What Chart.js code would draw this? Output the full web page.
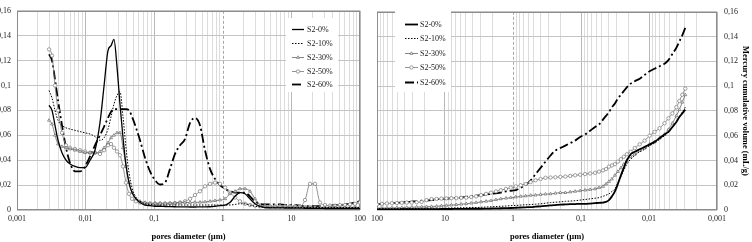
<!DOCTYPE html>
<html><head><meta charset="utf-8">
<script src="https://cdn.jsdelivr.net/npm/chart.js@4/dist/chart.umd.min.js"></script>
<style>
html,body{margin:0;padding:0;background:#fff;width:752px;height:242px;overflow:hidden}
#c1{position:absolute;left:0;top:0}
#c2{position:absolute;left:370px;top:0}
</style></head><body>
<canvas id="c1" width="370" height="242"></canvas>
<canvas id="c2" width="382" height="242"></canvas>
<script>
// ---------- DATA ----------
const diameters = [0.00293,0.00324,0.00358,0.00396,0.00453,0.00518,0.00592,0.0070,0.00829,0.0098,
 0.0116,0.0137,0.0162,0.0186,0.0212,0.0235,0.0259,0.0287,0.0317,0.0351,
 0.0388,0.0429,0.0475,0.0543,0.0621,0.0734,0.0869,0.103,0.122,0.144,
 0.170,0.201,0.238,0.281,0.333,0.393,0.465,0.550,0.651,0.770,
 0.910,1.08,1.27,1.51,1.78,2.11,2.49,2.95,3.49,4.12,
 4.88,5.77,6.82,8.07,9.55,11.3,13.3,15.8,18.7,22.1,
 26.1,30.9,36.5,43.2,51.1,60.4,71.5,84.5,100];

const seriesNames = ['S2-0%','S2-10%','S2-30%','S2-50%','S2-60%'];
const xDecades = [0.001,0.01,0.1,1,10,100];
const xTickLabelsLeft = ['0,001','0,01','0,1','1','10','100'];
const xTickLabelsRight = ['0,001','0,01','0,1','1','10','100'];
const yTickLabels = ['0','0,02','0,04','0,06','0,08','0,1','0,12','0,14','0,16'];

// differential intrusion (left panel)
const diff0 = [0.084,0.080,0.068,0.056,0.046,0.040,0.037,0.035,0.034,0.034,
 0.040,0.048,0.070,0.100,0.128,0.132,0.137,0.115,0.085,0.058,
 0.036,0.022,0.014,0.009,0.006,0.004,0.0035,0.003,0.003,0.0028,
 0.0027,0.0026,0.0025,0.0025,0.0024,0.0024,0.0025,0.0025,0.0026,0.003,
 0.0035,0.004,0.006,0.011,0.014,0.013,0.009,0.005,0.003,0.002,
 0.0018,0.0017,0.0017,0.0016,0.0016,0.0015,0.0015,0.0014,0.0014,0.0013,
 0.0013,0.0012,0.0012,0.0012,0.0012,0.0012,0.0012,0.0012,0.0012];
const diff10 = [0.096,0.090,0.080,0.072,0.068,0.066,0.065,0.064,0.063,0.062,
 0.061,0.059,0.056,0.058,0.065,0.075,0.085,0.092,0.095,0.075,
 0.050,0.030,0.018,0.010,0.007,0.005,0.0045,0.004,0.004,0.004,
 0.004,0.004,0.004,0.004,0.004,0.004,0.004,0.004,0.004,0.004,
 0.004,0.004,0.004,0.0045,0.005,0.005,0.004,0.003,0.0025,0.002,
 0.002,0.002,0.002,0.002,0.002,0.002,0.002,0.002,0.002,0.002,
 0.002,0.002,0.002,0.002,0.002,0.002,0.002,0.002,0.002];
const diff30 = [0.072,0.069,0.060,0.053,0.051,0.050,0.049,0.048,0.047,0.046,
 0.046,0.046,0.047,0.050,0.054,0.058,0.060,0.062,0.062,0.050,
 0.035,0.022,0.014,0.009,0.007,0.006,0.0055,0.0055,0.0055,0.0055,
 0.0056,0.0057,0.006,0.006,0.006,0.0062,0.0062,0.0065,0.007,0.0075,
 0.008,0.009,0.013,0.015,0.017,0.017,0.015,0.009,0.004,0.003,
 0.0025,0.0025,0.0025,0.0025,0.0025,0.0025,0.0025,0.0025,0.0025,0.0025,
 0.0022,0.0022,0.0022,0.0022,0.0022,0.0022,0.0022,0.0022,0.0022];
const diff50 = [0.129,0.124,0.100,0.080,0.062,0.052,0.050,0.049,0.048,0.047,
 0.046,0.046,0.045,0.048,0.052,0.053,0.050,0.047,0.044,0.035,
 0.022,0.013,0.009,0.007,0.006,0.0055,0.005,0.005,0.005,0.005,
 0.0052,0.0055,0.006,0.007,0.009,0.012,0.015,0.019,0.021,0.022,
 0.021,0.018,0.014,0.010,0.007,0.005,0.004,0.0035,0.003,0.003,
 0.003,0.003,0.003,0.003,0.003,0.003,0.003,0.008,0.021,0.021,
 0.006,0.004,0.0035,0.0035,0.004,0.004,0.0045,0.005,0.006];
const diff60 = [0.125,0.120,0.105,0.088,0.068,0.050,0.038,0.031,0.031,0.035,
 0.043,0.052,0.060,0.067,0.074,0.079,0.081,0.081,0.081,0.081,
 0.081,0.080,0.075,0.066,0.056,0.042,0.031,0.024,0.0205,0.022,
 0.033,0.045,0.052,0.057,0.070,0.074,0.068,0.048,0.033,0.025,
 0.020,0.017,0.015,0.014,0.014,0.014,0.011,0.007,0.005,0.0045,
 0.0045,0.0045,0.0045,0.004,0.004,0.004,0.0035,0.003,0.003,0.003,
 0.003,0.0035,0.0035,0.004,0.004,0.0045,0.005,0.006,0.007];

// cumulative volume (right panel)
const cum0 = [0.081,0.078,0.075,0.071,0.067,0.063,0.061,0.058,0.055,0.053,
 0.051,0.049,0.047,0.045,0.040,0.034,0.028,0.021,0.015,0.011,
 0.008,0.0065,0.006,0.0058,0.0055,0.0052,0.005,0.005,0.0048,0.0047,
 0.0045,0.0043,0.004,0.0037,0.0033,0.003,0.0027,0.0024,0.0022,0.002,
 0.0018,0.0016,0.0015,0.0014,0.0013,0.0012,0.0011,0.001,0.001,0.001,
 0.0009,0.0009,0.0009,0.0008,0.0008,0.0008,0.0007,0.0007,0.0007,0.0007,
 0.0006,0.0006,0.0006,0.0006,0.0005,0.0005,0.0005,0.0005,0.0005];
const cum10 = [0.083,0.079,0.075,0.071,0.067,0.063,0.060,0.057,0.054,0.052,
 0.049,0.047,0.044,0.041,0.037,0.032,0.027,0.022,0.017,0.015,
 0.013,0.012,0.011,0.010,0.0095,0.009,0.0085,0.008,0.0075,0.0072,
 0.007,0.0066,0.0063,0.006,0.0055,0.005,0.0047,0.0044,0.0042,0.004,
 0.0037,0.0035,0.0032,0.003,0.0028,0.0026,0.0024,0.0022,0.002,0.002,
 0.0019,0.0018,0.0017,0.0016,0.0015,0.0015,0.0014,0.0014,0.0013,0.0013,
 0.0012,0.0012,0.0011,0.0011,0.001,0.001,0.001,0.001,0.001];
const cum30 = [0.093,0.087,0.081,0.076,0.070,0.065,0.061,0.058,0.055,0.053,
 0.050,0.048,0.045,0.043,0.040,0.037,0.034,0.031,0.028,0.025,
 0.023,0.021,0.019,0.018,0.017,0.0165,0.016,0.0155,0.015,0.0145,
 0.014,0.014,0.0135,0.013,0.0128,0.0125,0.012,0.0118,0.0113,0.011,
 0.0105,0.010,0.0095,0.009,0.0083,0.0075,0.007,0.0065,0.006,0.0055,
 0.005,0.0047,0.0043,0.004,0.0037,0.0034,0.003,0.0028,0.0027,0.0025,
 0.0024,0.0022,0.002,0.0019,0.0018,0.0017,0.0016,0.0015,0.0015];
const cum50 = [0.098,0.093,0.088,0.083,0.078,0.074,0.070,0.066,0.063,0.060,
 0.056,0.053,0.050,0.047,0.045,0.043,0.041,0.039,0.037,0.036,
 0.035,0.033,0.032,0.031,0.030,0.0295,0.029,0.0285,0.028,0.0275,
 0.027,0.0267,0.0264,0.0262,0.026,0.025,0.024,0.0225,0.021,0.020,
 0.019,0.018,0.017,0.016,0.015,0.014,0.013,0.012,0.011,0.0105,
 0.010,0.0098,0.0096,0.0095,0.0094,0.0092,0.009,0.0088,0.008,0.0065,
 0.0062,0.006,0.006,0.0058,0.0056,0.0055,0.0053,0.005,0.0045];
const cum60 = [0.147,0.141,0.136,0.131,0.126,0.121,0.118,0.116,0.114,0.112,
 0.109,0.106,0.104,0.102,0.099,0.096,0.093,0.090,0.086,0.083,
 0.079,0.076,0.073,0.069,0.067,0.064,0.061,0.059,0.056,0.054,
 0.052,0.050,0.048,0.044,0.039,0.034,0.029,0.024,0.020,0.018,
 0.016,0.0155,0.015,0.014,0.0135,0.013,0.0125,0.012,0.0115,0.011,
 0.0105,0.010,0.0098,0.0095,0.0092,0.009,0.0085,0.008,0.0078,0.0075,
 0.007,0.0068,0.0065,0.006,0.0058,0.0055,0.0052,0.005,0.0047];

// ---------- STYLE ----------
const FONT = "'Liberation Serif','Times New Roman',serif";
Chart.defaults.font.family = FONT;
Chart.defaults.font.size = 8;
Chart.defaults.color = '#222';

const seriesStyles = [
  {color:'#000', width:1.3, dash:[], point:null},
  {color:'#000', width:1, dash:[1.5,1.5], point:null},
  {color:'#666', width:0.8, dash:[], point:'triangle'},
  {color:'#777', width:0.8, dash:[], point:'circle'},
  {color:'#000', width:1.8, dash:[9,3,2,3], point:null}
];

function makeDatasets(valueArrays, solidWidth) {
  return seriesNames.map((name, i) => {
    const st = seriesStyles[i];
    return {
      label: name,
      data: diameters.map((d, k) => ({x: d, y: valueArrays[i][k]})),
      borderColor: st.color,
      borderWidth: i === 0 ? solidWidth : st.width,
      borderDash: st.dash,
      pointStyle: st.point || 'circle',
      pointRadius: st.point ? 1.7 : 0,
      pointHoverRadius: 0,
      pointBackgroundColor: '#fff',
      pointBorderColor: st.color,
      pointBorderWidth: 0.7,
      cubicInterpolationMode: 'monotone',
      fill: false
    };
  });
}

function isDecade(v) {
  const l = Math.log10(v);
  return Math.abs(l - Math.round(l)) < 1e-6;
}

function xScale(labels, reverse, titleText) {
  return {
    type: 'logarithmic', min: 0.001, max: 100, reverse: reverse,
    afterBuildTicks: (scale) => {
      const t = [];
      for (let e = -3; e < 2; e++) for (let m = 1; m < 10; m++) t.push({value: m * Math.pow(10, e)});
      t.push({value: 100});
      scale.ticks = t;
    },
    afterFit: (s) => { s.height = 32; },
    ticks: {
      autoSkip: false, maxRotation: 0, minRotation: 0, padding: 4,
      font: {size: 8}, color: '#222',
      callback: (v) => {
        const i = xDecades.findIndex(d => Math.abs(d - v) / d < 1e-6);
        return i >= 0 ? labels[i] : '';
      }
    },
    grid: {
      drawTicks: false,
      lineWidth: 1,
      color: (ctx) => {
        const v = ctx.tick ? ctx.tick.value : 0;
        if (Math.abs(v - 1) < 1e-9) return 'rgba(0,0,0,0)';
        return isDecade(v) ? '#b8b8b8' : '#dcdcdc';
      }
    },
    border: {display: false},
    title: {display: true, text: titleText, font: {size: 8.5, weight: 'bold'}, color: '#000', padding: {top: 0, bottom: 0}}
  };
}

function yScale(position, width, pad, withTitle) {
  return {
    type: 'linear', position: position, min: 0, max: 0.16,
    afterFit: (s) => { s.width = width; },
    ticks: {
      stepSize: 0.02, padding: pad, font: {size: 8}, color: '#222',
      callback: (v) => { const i = Math.round(v / 0.02); return yTickLabels[i] !== undefined ? yTickLabels[i] : ''; }
    },
    grid: {drawTicks: false, color: '#c4c4c4', lineWidth: 1},
    border: {display: false},
    title: withTitle ? {display: true, text: 'Mercury cumulative volume (mL/g)', font: {size: 8.5, weight: 'bold'}, color: '#000', padding: {top: 2, bottom: 0}} : {display: false}
  };
}

const framePlugin = {
  id: 'frameLegend',
  beforeDatasetsDraw(chart) {
    const {ctx, chartArea: a} = chart;
    const x = chart.scales.x;
    ctx.save();
    const px = Math.round(x.getPixelForValue(1)) + 0.5;
    ctx.strokeStyle = '#a8a8a8'; ctx.lineWidth = 1; ctx.setLineDash([3, 2]);
    ctx.beginPath(); ctx.moveTo(px, a.top); ctx.lineTo(px, a.bottom); ctx.stroke();
    ctx.setLineDash([]);
    ctx.strokeStyle = '#8c8c8c';
    ctx.strokeRect(Math.round(a.left) + 0.5, Math.round(a.top) + 0.5, Math.round(a.width) - 1, Math.round(a.height) - 1);
    ctx.restore();
  },
  afterDatasetsDraw(chart, args, opts) {
    const ctx = chart.ctx;
    ctx.save();
    ctx.fillStyle = '#fff';
    ctx.fillRect(opts.box[0], opts.box[1], opts.box[2], opts.box[3]);
    seriesNames.forEach((name, i) => {
      const st = seriesStyles[i];
      const y = opts.ys[i] + 0.5;
      ctx.strokeStyle = st.color;
      ctx.lineWidth = (i === 0 ? opts.solidWidth : st.width);
      ctx.setLineDash(st.dash);
      ctx.beginPath(); ctx.moveTo(opts.lineX[0], y); ctx.lineTo(opts.lineX[1], y); ctx.stroke();
      ctx.setLineDash([]);
      if (st.point) {
        ctx.fillStyle = '#fff'; ctx.strokeStyle = st.color; ctx.lineWidth = 0.7;
        Chart.helpers.drawPoint(ctx, {pointStyle: st.point, rotation: 0, radius: 1.7, borderWidth: 0.7},
          (opts.lineX[0] + opts.lineX[1]) / 2, y);
      }
      ctx.fillStyle = '#222';
      ctx.font = "8px " + FONT;
      ctx.textBaseline = 'middle';
      ctx.textAlign = 'left';
      ctx.fillText(name, opts.textX, y);
    });
    ctx.restore();
  }
};

new Chart(document.getElementById('c1'), {
  type: 'line',
  data: {datasets: makeDatasets([diff0, diff10, diff30, diff50, diff60], 1.3)},
  options: {
    responsive: false, animation: false, devicePixelRatio: 1,
    layout: {padding: {left: 0, top: 5, right: 10, bottom: 0}},
    plugins: {
      legend: {display: false}, tooltip: {enabled: false},
      frameLegend: {box: [286, 18, 52, 74], lineX: [292, 304], textX: 307, ys: [29, 43, 57, 71, 84], solidWidth: 1.3}
    },
    scales: {
      x: xScale(xTickLabelsLeft, false, 'pores diameter (\u00b5m)'),
      y: yScale('left', 17, 6, false)
    }
  },
  plugins: [framePlugin]
});

new Chart(document.getElementById('c2'), {
  type: 'line',
  data: {datasets: makeDatasets([cum0, cum10, cum30, cum50, cum60], 1.8)},
  options: {
    responsive: false, animation: false, devicePixelRatio: 1,
    layout: {padding: {left: 7, top: 5, right: 0, bottom: 0}},
    plugins: {
      legend: {display: false}, tooltip: {enabled: false},
      frameLegend: {box: [25, 10, 56, 82], lineX: [35, 48], textX: 50, ys: [24, 38, 53, 67, 82], solidWidth: 1.8}
    },
    scales: {
      x: xScale(xTickLabelsRight, true, 'pores diameter (\u00b5m)'),
      y: yScale('right', 35, 7, true)
    }
  },
  plugins: [framePlugin]
});
</script>
</body></html>
